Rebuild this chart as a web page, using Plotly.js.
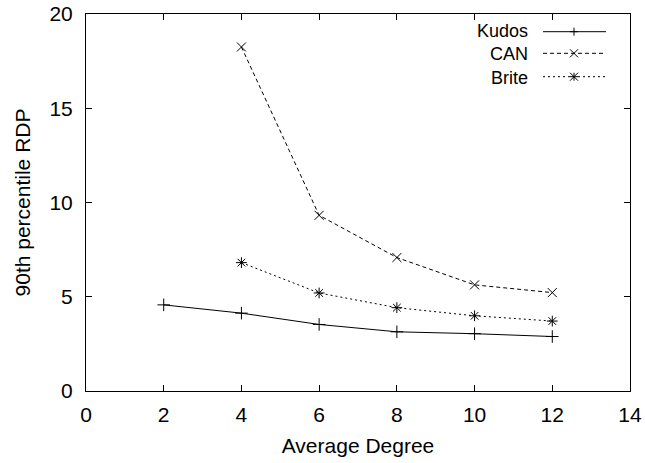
<!DOCTYPE html>
<html>
<head>
<meta charset="utf-8">
<script src="https://cdn.plot.ly/plotly-3.0.1.min.js"></script>
<style>html,body{margin:0;padding:0;background:#fff;}#chart{width:645px;height:463px;}</style>
</head>
<body>
<div id="chart"></div>
<script>
const kudosX = [2, 4, 6, 8, 10, 12];
const kudosY = [4.57, 4.13, 3.53, 3.14, 3.04, 2.89];
const canX = [4, 6, 8, 10, 12];
const canY = [18.25, 9.32, 7.08, 5.63, 5.22];
const briteX = [4, 6, 8, 10, 12];
const briteY = [6.81, 5.2, 4.42, 3.99, 3.71];
const xTicks = [0, 2, 4, 6, 8, 10, 12, 14];
const yTicks = [0, 5, 10, 15, 20];
const seriesNames = ['Kudos', 'CAN', 'Brite'];

const W = 645, H = 463, L = 86, R = 15, T = 14, B = 72;
const pw = W - L - R, ph = H - T - B;
const px = v => (v - L) / pw;
const py = v => (H - B - v) / ph;

const font = {family: 'Liberation Sans, Arial, sans-serif', size: 21, color: '#000'};
const legFont = {family: 'Liberation Sans, Arial, sans-serif', size: 18, color: '#000'};

function tr(x, y, name, dash, symbol) {
  return {x: x, y: y, name: name, type: 'scatter', mode: 'lines+markers',
    line: {color: '#000', width: 1, dash: dash},
    marker: {symbol: symbol, size: 9, color: '#000', line: {color: '#000', width: 1}},
    showlegend: false, cliponaxis: false};
}

const styles = [['solid', 'cross-thin-open'], ['4px,3px', 'x-thin-open'], ['2px,3px', 'asterisk-open']];
const data = [
  tr(kudosX, kudosY, seriesNames[0], styles[0][0], styles[0][1]),
  tr(canX, canY, seriesNames[1], styles[1][0], styles[1][1]),
  tr(briteX, briteY, seriesNames[2], styles[2][0], styles[2][1])
];

// custom gnuplot-like legend (text left of sample)
const legLineY = [31.7, 53.3, 76.7];
const shapes = [], annotations = [];
const lx0 = 543, lx1 = 606, mx = 574, ms = 4;
annotations.push({xref: 'paper', yref: 'paper', x: px(529), y: py(54), xanchor: 'right', yanchor: 'middle',
  align: 'right', text: seriesNames.join('<br>'), showarrow: false, font: legFont, borderpad: 0});
seriesNames.forEach((n, i) => {
  const yy = py(legLineY[i]);
  shapes.push({type: 'line', xref: 'paper', yref: 'paper', x0: px(lx0), x1: px(lx1), y0: yy, y1: yy,
    line: {color: '#000', width: 1, dash: styles[i][0]}});
  const segs = [];
  if (i === 0 || i === 2) { segs.push([0, -ms, 0, ms]); segs.push([-ms, 0, ms, 0]); }
  if (i === 1 || i === 2) { segs.push([-ms, -ms, ms, ms]); segs.push([-ms, ms, ms, -ms]); }
  segs.forEach(s => shapes.push({type: 'line', xref: 'paper', yref: 'paper',
    xsizemode: 'pixel', ysizemode: 'pixel', xanchor: px(mx), yanchor: yy,
    x0: s[0], y0: s[1], x1: s[2], y1: s[3], line: {color: '#000', width: 1}}));
});

const axisCommon = {showline: true, linecolor: '#000', linewidth: 1, mirror: 'ticks',
  ticks: 'inside', ticklen: 6, tickcolor: '#000', tickwidth: 1, showgrid: false, zeroline: false,
  tickfont: font};

const layout = {
  width: W, height: H, margin: {l: L, r: R, t: T, b: B},
  paper_bgcolor: '#fff', plot_bgcolor: '#fff', showlegend: false,
  font: font,
  xaxis: Object.assign({}, axisCommon, {range: [0, 14], tickvals: xTicks, ticktext: xTicks.map(String),
    ticklabelstandoff: 5,
    title: {text: 'Average Degree', font: font, standoff: 13}}),
  yaxis: Object.assign({}, axisCommon, {range: [0, 20], tickvals: yTicks, ticktext: yTicks.map(String),
    ticklabelstandoff: 8,
    title: {text: '90th percentile RDP', font: font, standoff: 13}}),
  shapes: shapes, annotations: annotations
};

Plotly.newPlot('chart', data, layout, {staticPlot: true, displayModeBar: false});
</script>
</body>
</html>
